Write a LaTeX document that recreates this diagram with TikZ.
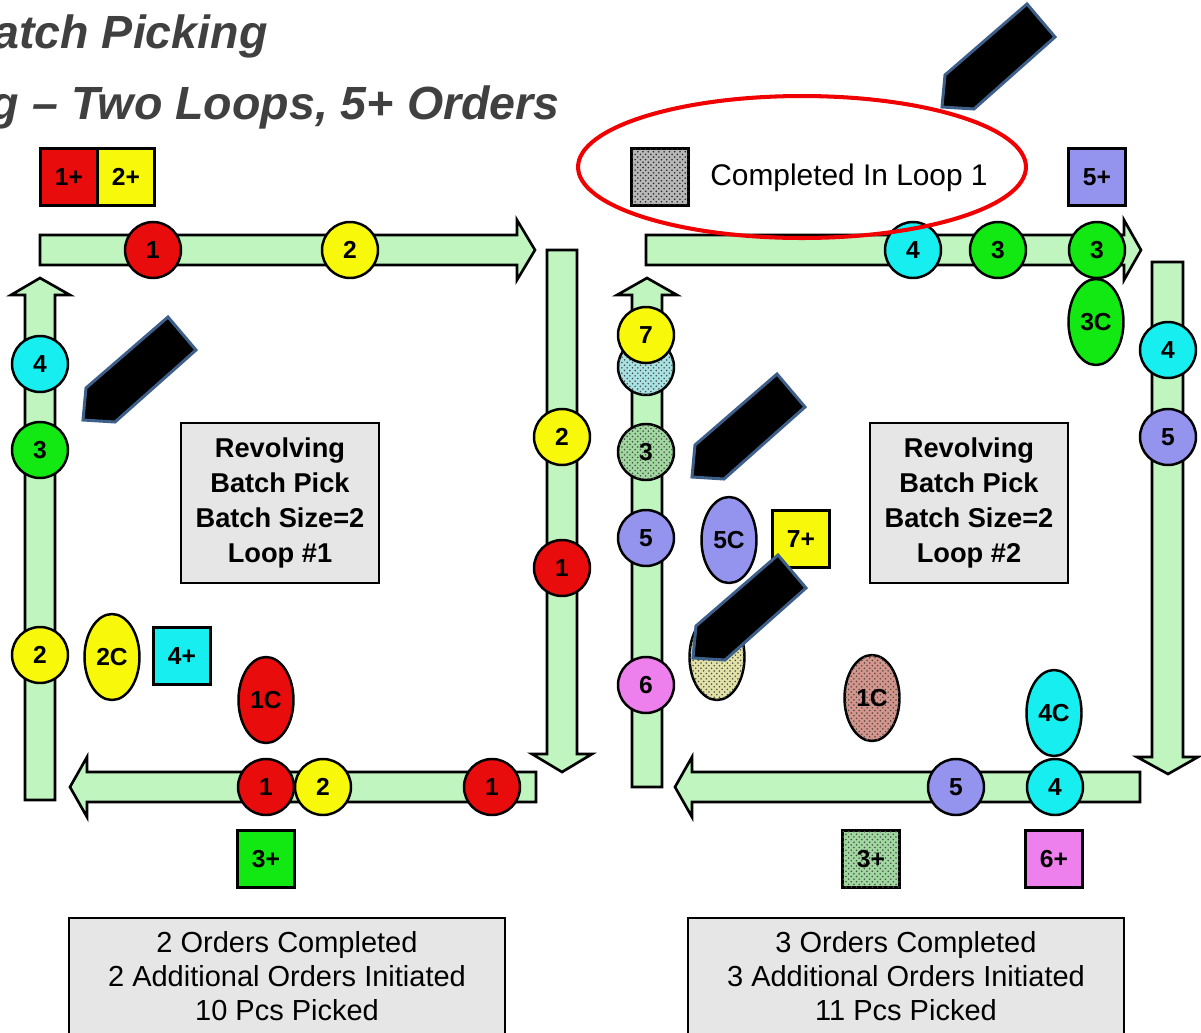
\documentclass[tikz,border=0pt]{standalone}
\usepackage{fontspec}
\setmainfont{Liberation Sans}
\usetikzlibrary{shapes.geometric,patterns}
\definecolor{Belt}{HTML}{C0F5C0}
\definecolor{TokRed}{HTML}{E80C0C}
\definecolor{TokYellow}{HTML}{F8F80A}
\definecolor{TokGreen}{HTML}{12E812}
\definecolor{TokCyan}{HTML}{16EEF0}
\definecolor{TokBlue}{HTML}{9494EE}
\definecolor{TokPink}{HTML}{EE80EE}
\definecolor{DoneGreen}{HTML}{A0D8A0}
\definecolor{DoneCyan}{HTML}{A8E2E2}
\definecolor{DoneRed}{HTML}{D4968C}
\definecolor{DoneYellow}{HTML}{E2E2A6}
\definecolor{DoneGray}{HTML}{B8B8B8}
\definecolor{BoxGray}{HTML}{E6E6E6}
\definecolor{TitleGray}{HTML}{404040}
\definecolor{PointerBlue}{HTML}{3E5F8A}
\definecolor{RingRed}{HTML}{F00000}
\newcommand{\tokfont}{\fontsize{14}{16}\selectfont\bfseries}
\newcommand{\loopfont}{\fontsize{15.5}{19.8}\selectfont\bfseries}
\newcommand{\tallyfont}{\fontsize{16.5}{19.3}\selectfont}

\begin{document}
\begin{tikzpicture}[x=0.02cm,y=-0.02cm,
    belt/.style={draw=black,line width=1.5pt,fill=Belt,line join=miter},
    tok/.style={circle,draw=black,line width=1.4pt,fill=#1,minimum size=1.12cm,inner sep=0pt,font=\tokfont},
    oval/.style={ellipse,draw=black,line width=1.4pt,fill=#1,minimum width=1.1cm,minimum height=1.72cm,inner sep=0pt,font=\tokfont},
    sq/.style={rectangle,draw=black,line width=1.2pt,fill=#1,minimum size=1.14cm,inner sep=0pt,font=\tokfont},
    done/.style={postaction={pattern=crosshatch dots,pattern color=#1}},
    loopbox/.style={rectangle,draw=black,line width=1pt,fill=BoxGray,align=center,minimum width=3.96cm,minimum height=3.2cm,font=\loopfont},
    tally/.style={rectangle,draw=black,line width=1pt,fill=BoxGray,align=center,minimum width=8.72cm,minimum height=2.32cm,anchor=north,font=\tallyfont},
    pointer/.style={draw=PointerBlue,line width=1.7pt,fill=black,line join=miter}
]
\useasboundingbox (0,0) rectangle (1201,1032);
\clip (0,0) rectangle (1201,1032);
\fill[white] (0,0) rectangle (1201,1032);

% title
\node[anchor=base east,text=TitleGray,font=\fontsize{26.5}{30}\selectfont\bfseries\itshape,inner sep=0pt] (title1) at (268,48) {Batch Picking};
\node[anchor=base east,text=TitleGray,font=\fontsize{26.5}{30}\selectfont\bfseries\itshape,inner sep=0pt] (title2) at (560,119) {g – Two Loops, 5+ Orders};

% loop 1 belts
\draw[belt] (40,235) -- (517,235) -- (517,220) -- (535,250) -- (517,280) -- (517,265) -- (40,265) -- cycle;
\draw[belt] (547,250) -- (577,250) -- (577,754) -- (592,754) -- (562,772) -- (532,754) -- (547,754) -- cycle;
\draw[belt] (536,772) -- (536,802) -- (87,802) -- (87,817) -- (70,787) -- (87,757) -- (87,772) -- cycle;
\draw[belt] (25,800) -- (25,295) -- (11,295) -- (40,278) -- (70,295) -- (55,295) -- (55,800) -- cycle;

% loop 2 belts
\draw[belt] (646,235) -- (1124,235) -- (1124,220) -- (1141,250) -- (1124,280) -- (1124,265) -- (646,265) -- cycle;
\draw[belt] (1152,262) -- (1183,262) -- (1183,757) -- (1198,757) -- (1168,774) -- (1137,757) -- (1152,757) -- cycle;
\draw[belt] (1140,772) -- (1140,802) -- (692,802) -- (692,817) -- (675,787) -- (692,757) -- (692,772) -- cycle;
\draw[belt] (632,787) -- (632,295) -- (617,295) -- (647,278) -- (677,295) -- (662,295) -- (662,787) -- cycle;

% loop 1 orders
\node[sq=TokRed] (new1) at (69,177) {1+};
\node[sq=TokYellow] (new2) at (126,177) {2+};
\node[tok=TokRed] (a1top) at (153,250) {1};
\node[tok=TokYellow] (a2top) at (350,250) {2};
\node[tok=TokYellow] (a2right) at (562,437) {2};
\node[tok=TokRed] (a1right) at (562,568) {1};
\node[tok=TokRed] (a1low) at (266,787) {1};
\node[tok=TokYellow] (a2low) at (323,787) {2};
\node[tok=TokRed] (a1end) at (492,787) {1};
\node[sq=TokGreen] (new3) at (266,859) {3+};
\node[tok=TokCyan] (a4left) at (40,364) {4};
\node[tok=TokGreen] (a3left) at (40,450) {3};
\node[tok=TokYellow] (a2left) at (40,655) {2};
\node[oval=TokYellow] (a2done) at (112,657) {2C};
\node[sq=TokCyan] (new4) at (182,656) {4+};
\node[oval=TokRed] (a1done) at (266,700) {1C};
\node[loopbox] (info1) at (280,503) {Revolving\\Batch Pick\\Batch Size=2\\Loop \#1};
\node[tally] (tally1) at (287,917) {2 Orders Completed\\2 Additional Orders Initiated\\10 Pcs Picked};

% loop 2 orders
\node[sq=DoneGray,done=black!85] (key) at (660,177) {};
\node[anchor=base west,inner sep=0pt,font=\fontsize{17}{20}\selectfont] (keytext) at (710,185) {Completed In Loop 1};
\node[sq=TokBlue] (new5) at (1097,177) {5+};
\node[tok=TokCyan] (b4top) at (913,250) {4};
\node[tok=TokGreen] (b3top) at (998,250) {3};
\node[tok=TokGreen] (b3end) at (1097,250) {3};
\node[oval=TokGreen] (b3done) at (1096,322) {3C};
\node[tok=TokCyan] (b4right) at (1168,350) {4};
\node[tok=TokBlue] (b5right) at (1168,437) {5};
\node[tok=TokBlue] (b5low) at (956,787) {5};
\node[tok=TokCyan] (b4low) at (1055,787) {4};
\node[oval=TokCyan] (b4done) at (1054,713) {4C};
\node[oval=DoneRed,done=black!70] (b1done) at (872,698) {1C};
\node[sq=DoneGreen,done=black!70] (old3) at (871,859) {3+};
\node[sq=TokPink] (new6) at (1054,859) {6+};
\node[tok=DoneCyan,done=black!70] (b4old) at (646,367) {};
\node[tok=TokYellow] (b7left) at (646,335) {7};
\node[tok=DoneGreen,done=black!70] (b3left) at (646,452) {3};
\node[tok=TokBlue] (b5left) at (646,538) {5};
\node[tok=TokPink] (b6left) at (646,685) {6};
\node[oval=TokBlue] (b5done) at (729,540) {5C};
\node[sq=TokYellow] (new7) at (801,539) {7+};
\node[oval=DoneYellow,done=black!70] (b2old) at (717,657) {};
\node[loopbox] (info2) at (969,503) {Revolving\\Batch Pick\\Batch Size=2\\Loop \#2};
\node[tally] (tally2) at (906,917) {3 Orders Completed\\3 Additional Orders Initiated\\11 Pcs Picked};

% highlight ring
\draw[RingRed,line width=2.3pt] (802,167) ellipse [x radius=4.48cm,y radius=1.42cm];

% pointers
\foreach \px/\py in {83/420,942/107,692/477,693/658}
  \draw[pointer] (\px,\py) -- ++(3,-32) -- ++(82,-71) -- ++(28,33) -- ++(-81,72) -- cycle;
\end{tikzpicture}
\end{document}
